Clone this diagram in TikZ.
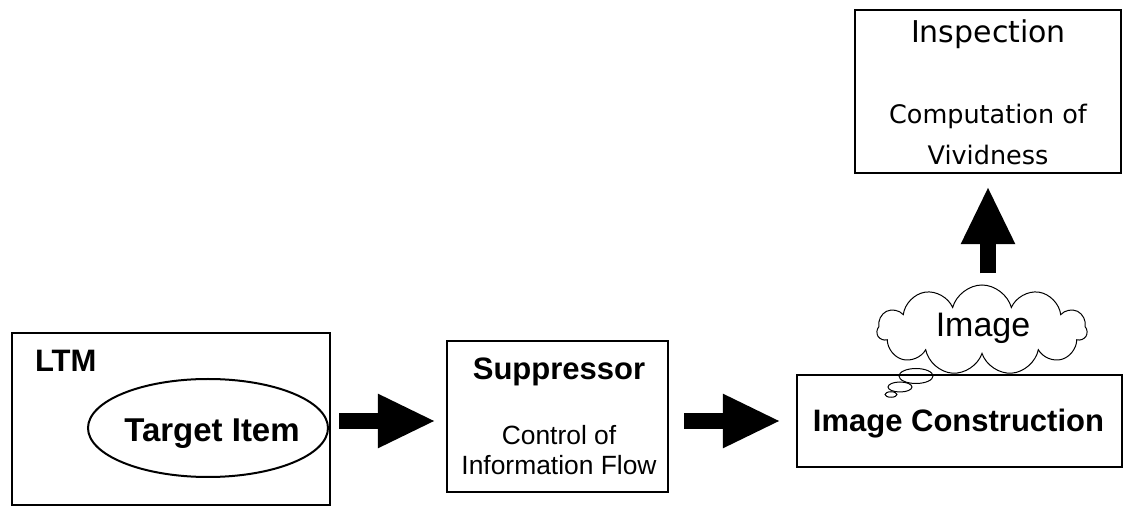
\documentclass[tikz,border=0pt]{standalone}
\usepackage{fontspec}
\setmainfont{Liberation Sans}
\newfontfamily\inspfont{DejaVu Sans}
\usetikzlibrary{shapes.geometric,shapes.symbols,arrows.meta}

\begin{document}
\begin{tikzpicture}[x=0.5pt,y=-0.5pt,
            box/.style={draw,line width=1.2pt,inner sep=0pt},
            title/.style={font=\bfseries\fontsize{15.5}{18}\selectfont,anchor=base},
            note/.style={font=\fontsize{13.2}{15}\selectfont,anchor=base},
            insptext/.style={font=\inspfont\fontsize{12.75}{15}\selectfont,anchor=base},
            bubble/.style={draw,ellipse,line width=0.5pt,inner sep=0pt},
            blockarrow/.style={line width=8pt,-{Triangle[length=29pt,width=25pt]}},
            ]
\useasboundingbox (0,0) rectangle (1125,507);

% LTM
\node[box,minimum width=159pt,minimum height=86pt] (ltm) at (171,419) {};
\node[title,anchor=base west] (ltmlabel) at (28,372) {LTM};
\node[draw,ellipse,line width=1pt,minimum width=120pt,minimum height=49pt,inner sep=0pt] (target) at (208,428) {};
\node[title,font=\bfseries\fontsize{16.5}{18}\selectfont] (targetlabel) at (212,442) {Target Item};

% Suppressor
\node[box,minimum width=110.5pt,minimum height=75.5pt] (sup) at (557.5,416.5) {};
\node[title] (suplabel) at (559,380) {Suppressor};
\node[note] (supnote1) at (559,445) {Control of};
\node[note] (supnote2) at (559,475) {Information Flow};

% Image Construction
\node[box,minimum width=162.5pt,minimum height=46pt] (ic) at (959.5,421) {};
\node[title] (iclabel) at (958.5,432) {Image Construction};

% thought cloud
\node[cloud,draw,line width=0.5pt,cloud puffs=11,aspect=2.3,minimum width=105pt,minimum height=45pt,inner sep=0pt] (img) at (982,330) {};
\node[font=\fontsize{17}{20}\selectfont,anchor=base] (imglabel) at (983,337) {Image};
\node[bubble,minimum width=17pt,minimum height=7.5pt] (b1) at (916,376) {};
\node[bubble,minimum width=12pt,minimum height=5pt] (b2) at (900,387) {};
\node[bubble,minimum width=6pt,minimum height=2.75pt] (b3) at (891,394.5) {};

% Inspection
\node[box,minimum width=133pt,minimum height=81.5pt] (insp) at (988,91.5) {};
\node[insptext,font=\inspfont\fontsize{15}{18}\selectfont] (insplabel) at (988.5,43) {Inspection};
\node[insptext] (inspnote1) at (988,124) {Computation of};
\node[insptext] (inspnote2) at (988,165) {Vividness};

% block arrows
\draw[blockarrow,shorten <=4pt,shorten >=5pt] (ltm.east |- ic.center) -- (sup.west |- ic.center);
\draw[blockarrow,shorten <=7.5pt,shorten >=7.5pt] (sup.east |- ic.center) -- (ic.west);
\draw[blockarrow,shorten <=5.5pt,shorten >=6pt] (insp.south |- img.north) -- (insp.south);
\end{tikzpicture}
\end{document}
